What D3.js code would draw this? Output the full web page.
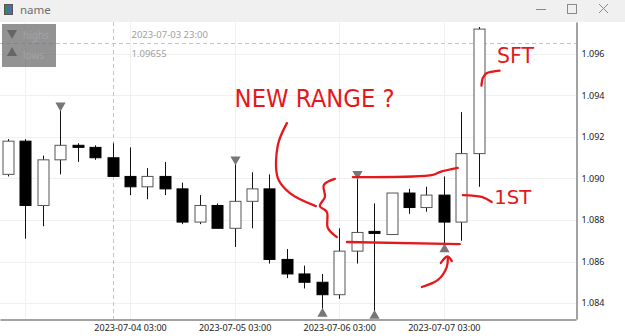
<!DOCTYPE html>
<html>
<head>
<meta charset="utf-8">
<script src="https://cdn.jsdelivr.net/npm/d3@7"></script>
<style>
  body { margin: 0; background: #fff; }
  svg { display: block; font-family: "Noto Sans", "DejaVu Sans", sans-serif; }
</style>
</head>
<body>
<script>
// 4h candles, EURUSD-ish
var times = ["2023-07-02 23:00", "2023-07-03 03:00", "2023-07-03 07:00", "2023-07-03 11:00",
  "2023-07-03 15:00", "2023-07-03 19:00", "2023-07-03 23:00", "2023-07-04 03:00",
  "2023-07-04 07:00", "2023-07-04 11:00", "2023-07-04 15:00", "2023-07-04 19:00",
  "2023-07-04 23:00", "2023-07-05 03:00", "2023-07-05 07:00", "2023-07-05 11:00",
  "2023-07-05 15:00", "2023-07-05 19:00", "2023-07-05 23:00", "2023-07-06 03:00",
  "2023-07-06 07:00", "2023-07-06 11:00", "2023-07-06 15:00", "2023-07-06 19:00",
  "2023-07-06 23:00", "2023-07-07 03:00", "2023-07-07 07:00", "2023-07-07 11:00"];
var opens = [1.0902, 1.0918, 1.0887, 1.0909, 1.0916, 1.0915, 1.0910, 1.0901, 1.0896, 1.0901,
  1.0895, 1.0879, 1.0887, 1.0876, 1.0889, 1.0895, 1.0861, 1.0854, 1.0850, 1.0844,
  1.0865, 1.08745, 1.0873, 1.0893, 1.0886, 1.0892, 1.0879, 1.0912];
var highs = [1.0919, 1.0919, 1.0911, 1.0933, 1.0917, 1.0916, 1.0917, 1.0915, 1.0905, 1.0908,
  1.0898, 1.0892, 1.0888, 1.0907, 1.0903, 1.0902, 1.0866, 1.0858, 1.0854, 1.0876,
  1.0900, 1.0888, 1.0893, 1.0895, 1.0896, 1.0901, 1.0932, 1.0973];
var lows = [1.0901, 1.0871, 1.0877, 1.0902, 1.0908, 1.0909, 1.0901, 1.0892, 1.0890, 1.0892,
  1.0878, 1.0878, 1.0876, 1.0867, 1.0876, 1.0859, 1.0852, 1.0847, 1.0837, 1.0842,
  1.0859, 1.0836, 1.0873, 1.0883, 1.0884, 1.0868, 1.0870, 1.0896];
var closes = [1.0918, 1.0887, 1.0909, 1.0916, 1.0915, 1.0910, 1.0901, 1.0896, 1.0901, 1.0895,
  1.0879, 1.0887, 1.0876, 1.0889, 1.0895, 1.0861, 1.0854, 1.0850, 1.0844, 1.0865,
  1.0874, 1.08737, 1.0893, 1.0886, 1.0892, 1.0879, 1.0912, 1.0972];

var highMarks = ["2023-07-03 11:00", "2023-07-05 03:00", "2023-07-06 07:00"];
var lowMarks = ["2023-07-05 23:00", "2023-07-06 11:00", "2023-07-07 03:00"];

var xTicks = ["2023-07-03 03:00", "2023-07-04 03:00", "2023-07-05 03:00", "2023-07-06 03:00", "2023-07-07 03:00"];
var yTicks = [1.084, 1.086, 1.088, 1.090, 1.092, 1.094, 1.096];

var cursorTime = "2023-07-03 23:00";
var cursorPrice = 1.09655;

// hand drawn notes: [candle index, price]
var noteNewRange = [[16.0, 1.09267], [15.48, 1.09161], [15.48, 1.09002], [16.17, 1.0893], [17.66, 1.08867]];
var noteBrace = [[18.75, 1.08998], [18.12, 1.08969], [18.18, 1.08911], [17.89, 1.08867], [18.29, 1.08839], [18.35, 1.08761], [18.86, 1.08718]];
var noteTop = [[19.78, 1.09007], [24.37, 1.09017], [24.77, 1.09031], [25.8, 1.09051]];
var noteBottom = [[19.44, 1.08694], [25.92, 1.08684]];
var noteArrow = [[23.74, 1.08477], [24.66, 1.08511], [25.17, 1.08573], [25.23, 1.08617]];
var noteArrowHead = [[24.83, 1.08593], [25.2, 1.08624], [25.46, 1.08602]];
var noteSft = [[27.16, 1.09448], [27.24, 1.09485], [27.45, 1.09507], [27.8, 1.09515], [28.2, 1.0952]];
var note1st = [[26.09, 1.0892], [27.18, 1.08911], [27.75, 1.08887]];
var noteTexts = [
  {text: "NEW RANGE ?", i: 13.0, p: 1.09345, len: 160, size: 25},
  {text: "SFT", i: 28.05, p: 1.09557, len: 37, size: 21},
  {text: "1ST", i: 27.9, p: 1.08877, len: 37, size: 20}
];

var W = 625, H = 336;
var plotTop = 22, plotBottom = 319, plotRight = 576;
var red = "#e5181b";

var parse = d3.utcParse("%Y-%m-%d %H:%M");
var fmt = d3.utcFormat("%Y-%m-%d %H:%M");

var data = times.map(function(t, i) {
  return {t: parse(t), o: opens[i], h: highs[i], l: lows[i], c: closes[i]};
});

var x = d3.scaleUtc()
  .domain([parse("2023-07-02 21:10"), parse("2023-07-08 09:20")])
  .range([0, plotRight]);
var y = d3.scaleLinear()
  .domain([1.083229, 1.097542])
  .range([plotBottom, plotTop]);

var t0 = data[0].t.getTime();
function xi(i) { return x(new Date(t0 + i * 4 * 3600 * 1000)); }

var svg = d3.select("body").append("svg")
  .attr("width", W)
  .attr("height", H);

// window title bar
svg.append("rect").attr("width", W).attr("height", plotTop).attr("fill", "#f0f0f0");
svg.append("rect").attr("x", 5).attr("y", 5).attr("width", 3).attr("height", 9).attr("fill", "#2e8b57");
svg.append("rect").attr("x", 8).attr("y", 5).attr("width", 4).attr("height", 9).attr("fill", "#4a6fa5");
svg.append("rect").attr("x", 4.5).attr("y", 4.5).attr("width", 8).attr("height", 10)
  .attr("fill", "none").attr("stroke", "#555");
svg.append("text").attr("x", 20).attr("y", 14).attr("font-size", 11.5).attr("fill", "#6e6e6e").text("name");
var ctl = svg.append("g").attr("stroke", "#8a8a8a").attr("fill", "none").attr("stroke-width", 1);
ctl.append("line").attr("x1", 536).attr("x2", 546).attr("y1", 9.5).attr("y2", 9.5);
ctl.append("rect").attr("x", 567.5).attr("y", 4.5).attr("width", 9).attr("height", 9);
ctl.append("path").attr("d", "M599,4L608,13M608,4L599,13");

var plot = svg.append("g");

// grid
plot.append("g").selectAll("line").data(yTicks).enter().append("line")
  .attr("x1", 0).attr("x2", plotRight)
  .attr("y1", function(d) { return Math.round(y(d)) + 0.5; })
  .attr("y2", function(d) { return Math.round(y(d)) + 0.5; })
  .attr("stroke", "#f0f0f0");
plot.append("g").selectAll("line").data(xTicks).enter().append("line")
  .attr("x1", function(d) { return Math.round(x(parse(d))) + 0.5; })
  .attr("x2", function(d) { return Math.round(x(parse(d))) + 0.5; })
  .attr("y1", plotTop).attr("y2", plotBottom)
  .attr("stroke", "#f0f0f0");

// crosshair
var cx = Math.round(x(parse(cursorTime))) + 0.5;
var cy = Math.round(y(cursorPrice)) + 0.5;
plot.append("line").attr("x1", cx).attr("x2", cx).attr("y1", plotTop).attr("y2", plotBottom)
  .attr("stroke", "#c4c4c4").attr("stroke-dasharray", "4,3");
plot.append("line").attr("x1", 0).attr("x2", plotRight).attr("y1", cy).attr("y2", cy)
  .attr("stroke", "#c4c4c4").attr("stroke-dasharray", "4,3");
plot.append("text").attr("x", cx + 18).attr("y", cy - 6).attr("font-size", 9.5).attr("fill", "#a0a0a0")
  .text(cursorTime);
plot.append("text").attr("x", cx + 18).attr("y", cy + 13).attr("font-size", 9.5).attr("fill", "#a0a0a0")
  .text(cursorPrice);

// candles
var bw = 11;
var candle = plot.append("g").selectAll("g").data(data).enter().append("g");
candle.append("line")
  .attr("x1", function(d) { return Math.round(x(d.t)) + 0.5; })
  .attr("x2", function(d) { return Math.round(x(d.t)) + 0.5; })
  .attr("y1", function(d) { return y(d.h); })
  .attr("y2", function(d) { return y(d.l); })
  .attr("stroke", "#111");
candle.append("rect")
  .attr("x", function(d) { return Math.round(x(d.t)) - bw / 2 + 0.5; })
  .attr("y", function(d) { return y(Math.max(d.o, d.c)); })
  .attr("width", bw)
  .attr("height", function(d) { return Math.max(2, Math.abs(y(d.o) - y(d.c))); })
  .attr("fill", function(d) { return d.c > d.o ? "#fff" : "#000"; })
  .attr("stroke", function(d) { return d.c > d.o ? "#555" : "#000"; })
  .attr("stroke-width", 1);

// high / low markers
var tri = d3.symbol().type(d3.symbolTriangle).size(45);
plot.append("g").selectAll("path").data(data.filter(function(d) { return highMarks.indexOf(fmt(d.t)) >= 0; }))
  .enter().append("path")
  .attr("d", tri)
  .attr("transform", function(d) { return "translate(" + (Math.round(x(d.t)) + 0.5) + "," + (y(d.h) - 4.5) + ") rotate(180)"; })
  .attr("fill", "#777");
plot.append("g").selectAll("path").data(data.filter(function(d) { return lowMarks.indexOf(fmt(d.t)) >= 0; }))
  .enter().append("path")
  .attr("d", tri)
  .attr("transform", function(d) { return "translate(" + (Math.round(x(d.t)) + 0.5) + "," + (y(d.l) + 4.5) + ")"; })
  .attr("fill", "#777");

// axes
var yAxis = d3.axisRight(y).tickValues(yTicks).tickFormat(d3.format(".3f")).tickSize(0).tickPadding(5);
var xAxis = d3.axisBottom(x).tickValues(xTicks.map(parse)).tickFormat(fmt).tickSize(0).tickPadding(5);
var ya = svg.append("g").attr("transform", "translate(" + (plotRight + 0.5) + ",0)").call(yAxis);
var xa = svg.append("g").attr("transform", "translate(0," + (plotBottom + 0.5) + ")").call(xAxis);
ya.select(".domain").attr("stroke", "#444");
xa.select(".domain").attr("stroke", "#444");
ya.selectAll(".tick text").attr("font-size", 9).attr("font-family", "Noto Sans").attr("fill", "#222");
xa.selectAll(".tick text").attr("font-size", 9).attr("font-family", "Noto Sans").attr("fill", "#222")
  .style("display", function(d) { return x(d) < 40 ? "none" : null; });

// legend
var lg = svg.append("g");
lg.append("rect").attr("x", 2).attr("y", 24).attr("width", 54).attr("height", 43)
  .attr("fill", "rgba(105,105,105,0.72)");
lg.append("path").attr("d", tri).attr("transform", "translate(12,33) rotate(180)").attr("fill", "#666");
lg.append("path").attr("d", tri).attr("transform", "translate(12,53)").attr("fill", "#666");
lg.append("text").attr("x", 23).attr("y", 39).attr("font-size", 10).attr("fill", "#a3a3a3").text("highs");
lg.append("text").attr("x", 23).attr("y", 59).attr("font-size", 10).attr("fill", "#a3a3a3").text("lows");

// red notes
var notes = svg.append("g").attr("fill", "none").attr("stroke", red).attr("stroke-width", 2.3)
  .attr("stroke-linecap", "round").attr("stroke-linejoin", "round");
var hand = d3.line()
  .x(function(d) { return xi(d[0]); })
  .y(function(d) { return y(d[1]); })
  .curve(d3.curveCatmullRom);
[noteNewRange, noteBrace, noteTop, noteBottom, noteArrow, noteArrowHead, noteSft, note1st].forEach(function(p) {
  notes.append("path").attr("d", hand(p));
});
svg.append("g").selectAll("text").data(noteTexts).enter().append("text")
  .attr("x", function(d) { return xi(d.i); })
  .attr("y", function(d) { return y(d.p); })
  .attr("font-size", function(d) { return d.size; })
  .attr("font-family", "DejaVu Sans")
  .attr("textLength", function(d) { return d.len; })
  .attr("lengthAdjust", "spacingAndGlyphs")
  .attr("fill", red)
  .text(function(d) { return d.text; });
</script>
</body>
</html>
